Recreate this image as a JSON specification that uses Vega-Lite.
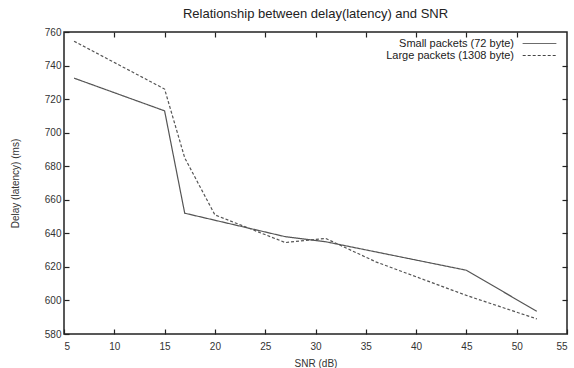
{
  "$schema": "https://vega.github.io/schema/vega-lite/v6.json",
  "width": 503,
  "height": 302,
  "autosize": {"type": "none"},
  "padding": {"left": 64, "top": 32, "right": 7, "bottom": 34},
  "background": "white",
  "title": {"text": "Relationship between delay(latency) and SNR", "fontSize": 13, "font": "Liberation Sans", "fontWeight": "normal", "color": "#222", "offset": 6},
  "config": {
    "view": {"stroke": "#222", "strokeWidth": 1.5},
    "axis": {"labelFont": "Liberation Sans", "titleFont": "Liberation Sans", "labelFontSize": 10, "titleFontSize": 10, "titleFontWeight": "normal", "labelColor": "#333", "titleColor": "#333", "grid": false, "domain": false, "tickColor": "#222", "tickSize": -5, "tickWidth": 1.2}
  },
  "data": {"values": [
    {"snr": 6, "delay": 732.5, "series": "Small packets (72 byte)"},
    {"snr": 15, "delay": 713, "series": "Small packets (72 byte)"},
    {"snr": 17, "delay": 652, "series": "Small packets (72 byte)"},
    {"snr": 27, "delay": 638, "series": "Small packets (72 byte)"},
    {"snr": 31, "delay": 635, "series": "Small packets (72 byte)"},
    {"snr": 45, "delay": 618, "series": "Small packets (72 byte)"},
    {"snr": 52, "delay": 593.5, "series": "Small packets (72 byte)"},
    {"snr": 6, "delay": 754.5, "series": "Large packets (1308 byte)"},
    {"snr": 15, "delay": 726, "series": "Large packets (1308 byte)"},
    {"snr": 17, "delay": 685, "series": "Large packets (1308 byte)"},
    {"snr": 20, "delay": 651, "series": "Large packets (1308 byte)"},
    {"snr": 27, "delay": 634.5, "series": "Large packets (1308 byte)"},
    {"snr": 31, "delay": 637, "series": "Large packets (1308 byte)"},
    {"snr": 36, "delay": 623, "series": "Large packets (1308 byte)"},
    {"snr": 45, "delay": 603, "series": "Large packets (1308 byte)"},
    {"snr": 52, "delay": 589, "series": "Large packets (1308 byte)"}
  ]},
  "layer": [
    {
      "mark": {"type": "line", "strokeWidth": 1.2, "color": "#555"},
      "encoding": {
        "x": {"field": "snr", "type": "quantitative", "scale": {"domain": [5, 55], "nice": false}, "axis": {"title": "SNR (dB)", "values": [5,10,15,20,25,30,35,40,45,50,55], "labelPadding": 12, "titlePadding": 7}},
        "y": {"field": "delay", "type": "quantitative", "scale": {"domain": [580, 760], "nice": false, "zero": false}, "axis": {"title": "Delay (latency)  (ms)", "values": [580,600,620,640,660,680,700,720,740,760], "labelPadding": 8, "titlePadding": 24}},
        "strokeDash": {"field": "series", "type": "nominal", "scale": {"domain": ["Small packets (72 byte)", "Large packets (1308 byte)"], "range": [[1, 0], [3, 2]]},
          "legend": {"title": null, "orient": "none", "legendX": 469, "legendY": 5, "symbolType": "M-2.8,0H2.8", "symbolSize": 144, "symbolStrokeWidth": 1, "symbolStrokeColor": "#444", "symbolFillColor": "transparent", "labelAlign": "right", "labelOffset": -32, "labelFont": "Liberation Sans", "labelFontSize": 11, "labelColor": "#222", "rowPadding": 0, "symbolOffset": 0}
        }
      }
    },
    {
      "mark": {"type": "line", "opacity": 0},
      "encoding": {
        "x": {"field": "snr", "type": "quantitative", "axis": {"orient": "top", "title": null, "labels": false, "values": [10,15,20,25,30,35,40,45,50]}},
        "y": {"field": "delay", "type": "quantitative", "axis": {"orient": "right", "title": null, "labels": false, "values": [600,620,640,660,680,700,720,740]}}
      }
    }
  ],
  "resolve": {"axis": {"x": "independent", "y": "independent"}}
}
